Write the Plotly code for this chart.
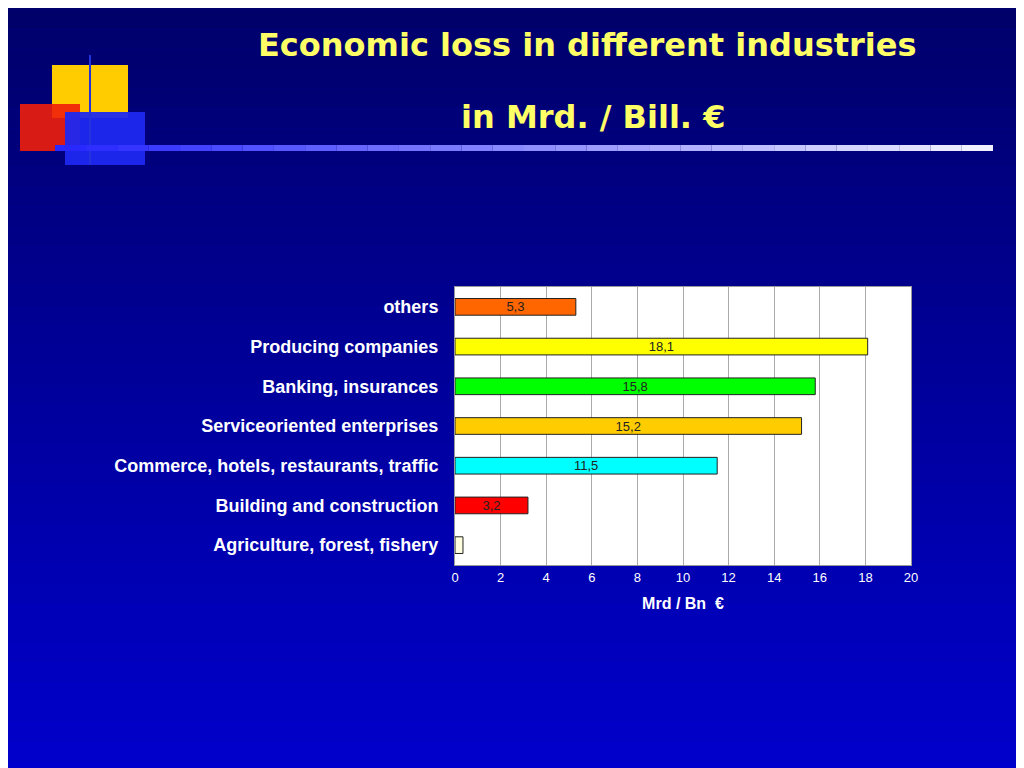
import plotly.graph_objects as go

categories = ["Agriculture, forest, fishery", "Building and construction",
              "Commerce, hotels, restaurants, traffic", "Serviceoriented enterprises",
              "Banking, insurances", "Producing companies", "others"]
values = [0.35, 3.2, 11.5, 15.2, 15.8, 18.1, 5.3]
labels = ["", "3,2", "11,5", "15,2", "15,8", "18,1", "5,3"]
colors = ["#FFFFE0", "#FF0000", "#00FFFF", "#FFCC00", "#00FF00", "#FFFF00", "#FF6600"]
xticks = [0, 2, 4, 6, 8, 10, 12, 14, 16, 18, 20]

O = 8  # page offset
fig = go.Figure(go.Bar(
    y=categories, x=values, orientation="h", width=0.42,
    marker=dict(color=colors, line=dict(color="#222222", width=1)),
    text=labels, textposition="inside", insidetextanchor="middle",
    textfont=dict(family="Arial", size=13, color="#222222"),
    constraintext="none", cliponaxis=False,
))

H = 278.0
def py(p):
    return (565 - p) / H
def px(p):
    return (p - 455) / 456.0

shapes = []
n = 40
for i in range(n):
    y0p = -10 + 790 * i / n
    y1p = -10 + 790 * (i + 1) / n
    t = i / (n - 1)
    col = "rgb(%d,%d,%d)" % (0, 0, int(105 + t * 100))
    shapes.append(dict(type="rect", xref="paper", yref="paper", layer="below",
                       x0=px(-20), x1=px(1040), y0=py(y1p), y1=py(y0p),
                       line=dict(width=0), fillcolor=col))
shapes.append(dict(type="rect", xref="paper", yref="paper", layer="below",
                   x0=0, x1=1, y0=0, y1=1, line=dict(width=0), fillcolor="white"))
shapes += [
    dict(type="rect", xref="paper", yref="paper", x0=px(52), x1=px(128), y0=py(118), y1=py(65),
         line=dict(width=0), fillcolor="#FFCC00", layer="below"),
    dict(type="rect", xref="paper", yref="paper", x0=px(20), x1=px(80), y0=py(151), y1=py(104),
         line=dict(width=0), fillcolor="rgba(240,30,10,0.9)", layer="below"),
    dict(type="rect", xref="paper", yref="paper", x0=px(65), x1=px(145), y0=py(165), y1=py(112),
         line=dict(width=0), fillcolor="rgba(30,40,240,0.95)", layer="below"),
    dict(type="line", xref="paper", yref="paper", x0=px(90), x1=px(90), y0=py(165), y1=py(55),
         line=dict(width=2, color="#2233dd"), layer="below"),
]
m = 30
for i in range(m):
    t = i / (m - 1)
    c = "rgb(%d,%d,255)" % (int(40 + t * 200), int(40 + t * 200))
    shapes.append(dict(type="rect", xref="paper", yref="paper", layer="below",
                       x0=px(55 + (993 - 55) * i / m), x1=px(55 + (993 - 55) * (i + 1) / m),
                       y0=py(151), y1=py(145), line=dict(width=0), fillcolor=c))

fig.update_layout(
    width=1024, height=768,
    margin=dict(l=455 - O, r=113 + O, t=287 - O, b=203 + O),
    paper_bgcolor="#0000a0", plot_bgcolor="white",
    shapes=shapes, showlegend=False,
    font=dict(family="Liberation Sans, Arial", color="white"),
    xaxis=dict(range=[0, 20], tickvals=xticks, showgrid=True, gridcolor="#aaaaaa",
               gridwidth=1, zeroline=False, ticks="", tickfont=dict(size=13, color="white"),
               title=dict(text="<b>Mrd / Bn  €</b>", font=dict(size=16, color="white"), standoff=14),
               mirror=True, showline=True, linecolor="#999999"),
    yaxis=dict(tickfont=dict(size=18, color="white"), ticks="", ticklabelstandoff=12,
               showgrid=False, showline=True, linecolor="#999999", mirror=True,
               tickprefix="<b>", ticksuffix="</b>"),
    annotations=[dict(xref="paper", yref="paper", x=px(587), y=py(45), xanchor="center",
                      yanchor="middle", text="<b>Economic loss in different industries</b>",
                      showarrow=False, font=dict(family="DejaVu Sans", size=32, color="#FFFF66")),
                 dict(xref="paper", yref="paper", x=px(593), y=py(117), xanchor="center",
                      yanchor="middle", text="<b>in Mrd. / Bill. €</b>", showarrow=False,
                      font=dict(family="DejaVu Sans", size=32, color="#FFFF66"))],
)
fig.write_html("out.html")
